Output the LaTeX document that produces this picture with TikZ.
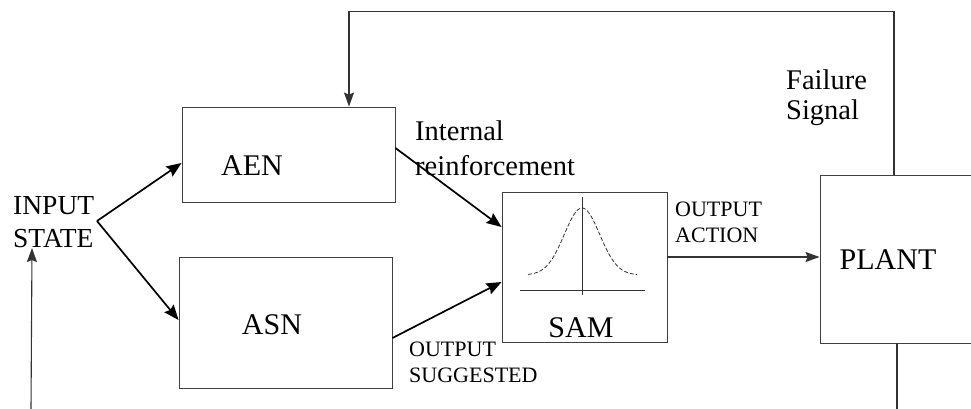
\documentclass[tikz,border=0pt]{standalone}
\usepackage{fontspec}
\setmainfont{Liberation Serif}
\usetikzlibrary{arrows.meta}
\begin{document}
\begin{tikzpicture}[x=1pt,y=-1pt,
  box/.style={draw=black!75, line width=0.9pt, inner sep=0pt},
  conn/.style={draw=black!80, line width=1.1pt},
  arr/.style={conn,-{Stealth[length=14pt,width=10pt,inset=2pt]}},
  barr/.style={draw=black, line width=1.7pt,-{Stealth[length=15pt,width=12pt,inset=2pt]}},
  big/.style={font=\fontsize{30}{34}\selectfont, inner sep=0pt},
  mid/.style={font=\fontsize{28.5}{35}\selectfont, align=left, inner sep=0pt},
  small/.style={font=\fontsize{22}{26}\selectfont, align=left, inner sep=0pt}]
\path[use as bounding box] (0,0) rectangle (971,408);
\clip (0,0) rectangle (971,408);

% boxes
\node[box, minimum width=213pt, minimum height=95pt] (aen) at (288.5,154.5) {};
\node[box, minimum width=213pt, minimum height=131pt] (asn) at (285.5,322.5) {};
\node[box, minimum width=165pt, minimum height=150pt] (sam) at (584.5,267.5) {};
\node[box, minimum width=200pt, minimum height=168pt] (plant) at (920,259) {};

% box labels
\node[big] (aenT) at (252,166) {AEN};
\node[big] (asnT) at (272,325) {ASN};
\node[big] (samT) at (581,328) {SAM};
\node[big] (plantT) at (888,260) {PLANT};

% other labels
\node[mid, font=\fontsize{27.5}{33}\selectfont, anchor=north west] (inp) at (13,196) {INPUT\\STATE};
\node[mid, anchor=north west] (ir) at (415,121) {Internal\\reinforcement};
\node[mid, font=\fontsize{28.5}{30}\selectfont, anchor=north west] (fs) at (786,70) {Failure\\Signal};
\node[small, anchor=north west] (oa) at (675,202) {OUTPUT\\ACTION};
\node[small, anchor=north west] (os) at (409,342) {OUTPUT\\SUGGESTED};

% gaussian inside SAM
\draw[black!80, line width=0.8pt, dash pattern=on 4pt off 2pt] plot[domain=528:637, samples=80] (\x, {275-67*exp(-((\x-582)/25)^2)});
\draw[black!80, line width=0.8pt] (582,197) -- (582,295);
\draw[black!80, line width=0.9pt] (520,290) -- (645,290);

% connectors
\coordinate (jn) at (97,221);
\draw[barr] (jn) -- ([yshift=-8.5pt]aen.west);
\draw[barr] (jn) -- ([yshift=2.5pt]asn.west);
\draw[barr] ([yshift=6.5pt]aen.east) -- ([yshift=40.5pt]sam.west);
\draw[barr] ([yshift=-15.5pt]asn.east) -- ([yshift=-14.5pt]sam.west);
\coordinate (oaS) at ([yshift=10.5pt]sam.east);
\draw[arr] (oaS) -- (oaS -| plant.west);
\draw[arr] ([xshift=-26pt]plant.north) -- ++(0,-163) -| ([xshift=60.5pt]aen.north);
\coordinate (pb) at ([xshift=-23pt]plant.south);
\coordinate (pbEnd) at (897,410);
\draw[conn] (pb) -- (pbEnd);
\coordinate (fbStart) at (31,410);
\coordinate (fbEnd) at (32,248);
\draw[arr] (fbStart) -- (fbEnd);
\end{tikzpicture}
\end{document}
